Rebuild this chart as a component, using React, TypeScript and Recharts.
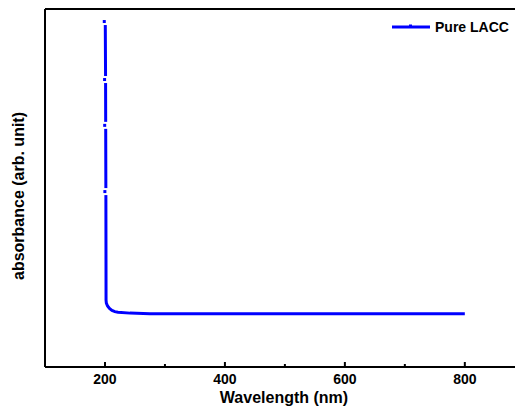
import React from 'react';
import { LineChart, Line, XAxis, YAxis, Legend, ReferenceLine } from 'recharts';

const wavelengths = [200.5, 201, 201.2, 201.5, 201.7, 201.8, 202.3, 204.3, 207.5, 211.7, 216.5, 221.7, 241.7, 275, 300, 400, 500, 600, 700, 800];
const absorbance = [96.5, 80.3, 67.5, 49.0, 30.0, 18.7, 17.85, 17.04, 16.34, 15.81, 15.47, 15.3, 15.05, 14.9, 14.88, 14.87, 14.87, 14.87, 14.87, 14.87];
const markedWavelengths = [200.5, 201, 201.2, 201.5];
const xTicks = [200, 300, 400, 500, 600, 700, 800];
const majorTicks = [200, 400, 600, 800];
const seriesName = 'Pure LACC';

const data = wavelengths.map((w, i) => ({ w, a: absorbance[i] }));

const FONT = '"Liberation Sans", Arial, sans-serif';
const BLUE = '#0000ff';

const renderTick = (props: any) => {
  const { x, y, payload } = props;
  const major = majorTicks.includes(payload.value);
  return (
    <g>
      <line x1={x} x2={x} y1={y} y2={y - (major ? 5 : 3)} stroke="#000" strokeWidth={2} />
      {major && (
        <text x={x} y={y + 12} textAnchor="middle" dominantBaseline="central" fontFamily={FONT} fontWeight="bold" fontSize={14} fill="#000">
          {payload.value}
        </text>
      )}
    </g>
  );
};

const renderDot = (props: any) => {
  const { cx, cy, payload, index } = props;
  if (!markedWavelengths.includes(payload.w)) return <g key={`d${index}`} />;
  return (
    <g key={`d${index}`}>
      <rect x={cx - 4} y={cy - 3.5} width={8} height={7} fill="#fff" />
      <rect x={cx - 2.5} y={cy - 1.5} width={3} height={3} fill={BLUE} />
    </g>
  );
};

const renderXLabel = (props: any) => {
  const vb = props.viewBox;
  return (
    <text x={vb.x + vb.width / 2} y={vb.y + 30} textAnchor="middle" dominantBaseline="central" fontFamily={FONT} fontWeight="bold" fontSize={16} fill="#000">
      Wavelength (nm)
    </text>
  );
};

const renderYLabel = (props: any) => {
  const vb = props.viewBox;
  const cx = vb.x + 10.5;
  const cy = vb.y + vb.height / 2 + 8;
  return (
    <text x={cx} y={cy} transform={`rotate(-90, ${cx}, ${cy})`} textAnchor="middle" dominantBaseline="central" fontFamily={FONT} fontWeight="bold" fontSize={16} fill="#000">
      absorbance (arb. unit)
    </text>
  );
};

const renderLegend = () => (
  <div style={{ display: 'flex', alignItems: 'center', height: 18, fontFamily: FONT, fontWeight: 'bold', fontSize: 14, color: '#000', whiteSpace: 'nowrap' }}>
    <svg width={40} height={18} style={{ display: 'block' }}>
      <line x1={0} x2={38} y1={9} y2={9} stroke={BLUE} strokeWidth={3} />
      <rect x={17} y={6.5} width={3} height={3} fill={BLUE} />
    </svg>
    <span style={{ marginLeft: 3 }}>{seriesName}</span>
  </div>
);

export default function App() {
  return (
    <LineChart width={515} height={398} data={data} margin={{ top: 1, right: 0, left: 0, bottom: 0 }}>
      <XAxis
        dataKey="w"
        type="number"
        domain={[100, 897]}
        allowDataOverflow
        ticks={xTicks}
        tickLine={false}
        tickSize={0}
        tickMargin={0}
        tick={renderTick}
        height={39}
        axisLine={{ stroke: '#000', strokeWidth: 2 }}
        label={renderXLabel}
        interval={0}
      />
      <YAxis
        type="number"
        domain={[0, 100]}
        width={37}
        tick={false}
        tickLine={false}
        axisLine={{ stroke: '#000', strokeWidth: 2 }}
        label={renderYLabel}
      />
      <ReferenceLine y={100} stroke="#000" strokeWidth={2} />
      <Legend
        layout="horizontal"
        verticalAlign="middle"
        align="center"
        wrapperStyle={{ top: 10, left: 384, width: 140 }}
        content={renderLegend}
      />
      <Line
        dataKey="a"
        name={seriesName}
        type="linear"
        stroke={BLUE}
        strokeWidth={3}
        dot={renderDot}
        activeDot={false}
        isAnimationActive={false}
      />
    </LineChart>
  );
}
